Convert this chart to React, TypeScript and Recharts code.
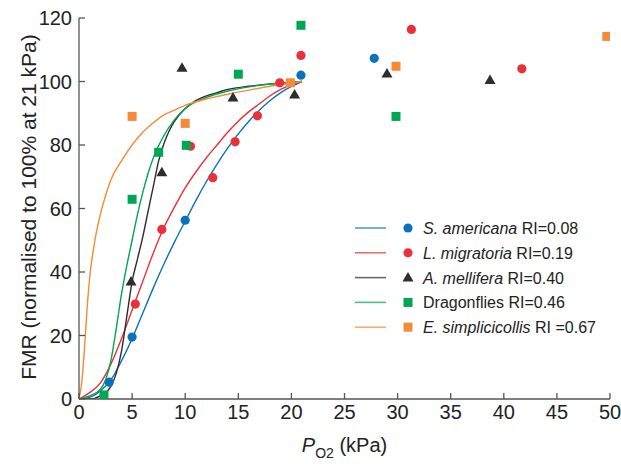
import { ComposedChart, Line, Scatter, XAxis, YAxis } from 'recharts'

type Pt = { x: number; y: number }

const xTicks = [0, 5, 10, 15, 20, 25, 30, 35, 40, 45, 50]
const yTicks = [0, 20, 40, 60, 80, 100, 120]

// measured points
const americanaPts: Pt[] = [
  { x: 2.85, y: 5.3 }, { x: 5.0, y: 19.5 }, { x: 10.0, y: 56.3 }, { x: 20.9, y: 102 }, { x: 27.8, y: 107.3 },
]
const migratoriaPts: Pt[] = [
  { x: 5.3, y: 29.9 }, { x: 7.8, y: 53.4 }, { x: 10.5, y: 79.6 }, { x: 12.6, y: 69.7 }, { x: 14.7, y: 81 },
  { x: 16.8, y: 89.2 }, { x: 18.9, y: 99.6 }, { x: 20.9, y: 108.2 }, { x: 31.3, y: 116.4 }, { x: 41.7, y: 104 },
]
const melliferaPts: Pt[] = [
  { x: 4.9, y: 37 }, { x: 7.8, y: 71.4 }, { x: 9.7, y: 104.3 }, { x: 14.5, y: 95 }, { x: 20.3, y: 95.9 },
  { x: 29.0, y: 102.5 }, { x: 38.7, y: 100.5 },
]
const dragonflyPts: Pt[] = [
  { x: 2.35, y: 1.3 }, { x: 5.0, y: 62.9 }, { x: 7.5, y: 77.7 }, { x: 10.1, y: 79.9 }, { x: 15.0, y: 102.3 },
  { x: 20.9, y: 117.7 }, { x: 29.85, y: 89 },
]
const simplicicollisPts: Pt[] = [
  { x: 5.0, y: 89 }, { x: 10.0, y: 86.8 }, { x: 19.9, y: 99.6 }, { x: 29.85, y: 104.8 }, { x: 49.7, y: 114.2 },
]

// fitted curves
const americanaFit: Pt[] = [
  { x: 0, y: 0 }, { x: 1, y: 0.5 }, { x: 2, y: 2.5 }, { x: 3, y: 6 }, { x: 4, y: 12 }, { x: 5, y: 19 },
  { x: 6, y: 27 }, { x: 7, y: 35 }, { x: 8, y: 42.5 }, { x: 9, y: 49.5 }, { x: 10, y: 56 }, { x: 11, y: 62.5 },
  { x: 12, y: 68.5 }, { x: 13, y: 74 }, { x: 14, y: 79 }, { x: 15, y: 83.5 }, { x: 16, y: 87.5 }, { x: 17, y: 91 },
  { x: 18, y: 94 }, { x: 19, y: 96.5 }, { x: 20, y: 98.5 }, { x: 21, y: 100 },
]
const migratoriaFit: Pt[] = [
  { x: 0, y: 0 }, { x: 1, y: 2 }, { x: 2, y: 5 }, { x: 3, y: 11 }, { x: 4, y: 19 }, { x: 5, y: 28 },
  { x: 6, y: 37 }, { x: 7, y: 46 }, { x: 8, y: 54 }, { x: 9, y: 60.5 }, { x: 10, y: 66.5 }, { x: 11, y: 71.5 },
  { x: 12, y: 76 }, { x: 13, y: 80 }, { x: 14, y: 84 }, { x: 15, y: 87.5 }, { x: 16, y: 90.5 }, { x: 17, y: 93 },
  { x: 18, y: 95.5 }, { x: 19, y: 97.5 }, { x: 20, y: 99 }, { x: 21, y: 100 },
]
const melliferaFit: Pt[] = [
  { x: 0, y: 0 }, { x: 1, y: 0 }, { x: 2, y: 1 }, { x: 3, y: 4 }, { x: 3.5, y: 8 }, { x: 4, y: 15 },
  { x: 4.5, y: 26 }, { x: 5, y: 37 }, { x: 5.5, y: 44 }, { x: 6, y: 51 }, { x: 6.5, y: 59 }, { x: 7, y: 67 },
  { x: 7.5, y: 75 }, { x: 8, y: 80.5 }, { x: 8.5, y: 84.5 }, { x: 9, y: 87.5 }, { x: 10, y: 91.5 },
  { x: 11, y: 94 }, { x: 12, y: 95.5 }, { x: 13, y: 96.5 }, { x: 14, y: 97.5 },
  { x: 16, y: 98.5 }, { x: 18, y: 99.2 }, { x: 21, y: 100 },
]
const dragonflyFit: Pt[] = [
  { x: 0, y: 0 }, { x: 1, y: 1 }, { x: 2, y: 3 }, { x: 2.5, y: 6 }, { x: 3, y: 12 }, { x: 3.5, y: 22 },
  { x: 4, y: 33 }, { x: 4.5, y: 42 }, { x: 5, y: 50 }, { x: 5.5, y: 58 }, { x: 6, y: 65 }, { x: 6.5, y: 71 },
  { x: 7, y: 76 }, { x: 8, y: 83 }, { x: 9, y: 88 }, { x: 10, y: 91.5 }, { x: 12, y: 95 }, { x: 14, y: 97 },
  { x: 16, y: 98.3 }, { x: 18, y: 99.2 }, { x: 21, y: 100 },
]
const simplicicollisFit: Pt[] = [
  { x: 0, y: 0 }, { x: 0.25, y: 5 }, { x: 0.5, y: 15 }, { x: 0.75, y: 28 }, { x: 1, y: 38 }, { x: 1.5, y: 50 },
  { x: 2, y: 58 }, { x: 2.5, y: 64 }, { x: 3, y: 69 }, { x: 4, y: 75 }, { x: 5, y: 80 }, { x: 6, y: 84 },
  { x: 7, y: 87 }, { x: 8, y: 89.5 }, { x: 9, y: 91 }, { x: 10, y: 92.5 }, { x: 12, y: 94.5 }, { x: 14, y: 96 },
  { x: 16, y: 97.3 }, { x: 18, y: 98.5 }, { x: 21, y: 100 },
]

const speciesNames = ['S. americana', 'L. migratoria', 'A. mellifera', 'Dragonflies', 'E. simplicicollis']
const riLabels = [' RI=0.08', ' RI=0.19', ' RI=0.40', ' RI=0.46', ' RI =0.67']
const italicName = [true, true, true, false, true]

const BLUE = '#0a72bd'
const RED = '#ea3039'
const BLACK = '#2d2d2d'
const GREEN = '#00a651'
const ORANGE = '#f68b37'

const series = [
  { pts: americanaPts, fit: americanaFit, color: BLUE, marker: 'circle' },
  { pts: migratoriaPts, fit: migratoriaFit, color: RED, marker: 'circle' },
  { pts: melliferaPts, fit: melliferaFit, color: BLACK, marker: 'triangle' },
  { pts: dragonflyPts, fit: dragonflyFit, color: GREEN, marker: 'square' },
  { pts: simplicicollisPts, fit: simplicicollisFit, color: ORANGE, marker: 'square' },
]

const FONT = '"Liberation Sans", Arial, sans-serif'

function Marker({ kind, cx, cy, color }: { kind: string; cx: number; cy: number; color: string }) {
  if (kind === 'circle') return <circle cx={cx} cy={cy} r={4.6} fill={color} />
  if (kind === 'square') return <rect x={cx - 4.5} y={cy - 4.5} width={9} height={9} fill={color} />
  return <polygon points={`${cx},${cy - 5.5} ${cx - 5.5},${cy + 4} ${cx + 5.5},${cy + 4}`} fill={color} />
}

function XLabel(props: any) {
  const vb = props.viewBox || { x: 79, y: 399, width: 531, height: 55 }
  const cx = vb.x + vb.width / 2
  return (
    <text x={cx} y={vb.y + 53} textAnchor="middle" fontSize={20} fill="#222" fontFamily={FONT}>
      <tspan fontStyle="italic">P</tspan>
      <tspan fontSize={14} dy={6}>O2</tspan>
      <tspan dy={-6}> (kPa)</tspan>
    </text>
  )
}

function YLabel() {
  return (
    <text x={36} y={207} transform="rotate(-90 36 207)" textAnchor="middle" fontSize={21} fill="#222" fontFamily={FONT}>
      FMR (normalised to 100% at 21 kPa)
    </text>
  )
}

function LegendBox() {
  const rowY = [228, 252.8, 277.6, 302.4, 327.2]
  return (
    <svg width={621} height={464} style={{ position: 'absolute', left: 0, top: 0, pointerEvents: 'none' }}>
      {series.map((s, i) => (
        <g key={i}>
          <line x1={355} x2={386} y1={rowY[i]} y2={rowY[i]} stroke={s.color} strokeOpacity={0.75} strokeWidth={1.5} />
          <Marker kind={s.marker} cx={408} cy={rowY[i]} color={s.color} />
          <text x={423} y={rowY[i] + 6} fontSize={16} fill="#222" fontFamily={FONT}>
            <tspan fontStyle={italicName[i] ? 'italic' : 'normal'}>{speciesNames[i]}</tspan>
            <tspan>{riLabels[i]}</tspan>
          </text>
        </g>
      ))}
    </svg>
  )
}

export default function App() {
  return (
    <div style={{ position: 'absolute', left: 0, top: 0, width: 621, height: 464, background: '#fff' }}>
      <ComposedChart width={621} height={464} margin={{ top: 18, right: 11, bottom: 10, left: 0 }}>
        <XAxis
          type="number"
          dataKey="x"
          domain={[0, 50]}
          ticks={xTicks}
          allowDataOverflow
          height={55}
          stroke="#555"
          strokeWidth={1.3}
          tickSize={-6}
          tickMargin={12}
          tick={{ fontSize: 20, fill: '#222', fontFamily: FONT }}
          label={<XLabel />}
        />
        <YAxis
          type="number"
          dataKey="y"
          domain={[0, 120]}
          ticks={yTicks}
          allowDataOverflow
          width={79}
          stroke="#555"
          strokeWidth={1.3}
          tickSize={-6}
          tickMargin={13}
          tick={{ fontSize: 20, fill: '#222', fontFamily: FONT }}
        />
        {series.map((s, i) => (
          <Line
            key={'fit' + i}
            data={s.fit}
            dataKey="y"
            type="monotone"
            stroke={s.color}
            strokeWidth={1.4}
            dot={false}
            activeDot={false}
            isAnimationActive={false}
          />
        ))}
        {series.map((s, i) => (
          <Scatter
            key={'pts' + i}
            data={s.pts}
            dataKey="y"
            isAnimationActive={false}
            shape={(p: any) => <Marker kind={s.marker} cx={p.cx} cy={p.cy} color={s.color} />}
          />
        ))}
      </ComposedChart>
      <svg width={621} height={464} style={{ position: 'absolute', left: 0, top: 0, pointerEvents: 'none' }}>
        <YLabel />
      </svg>
      <LegendBox />
    </div>
  )
}
